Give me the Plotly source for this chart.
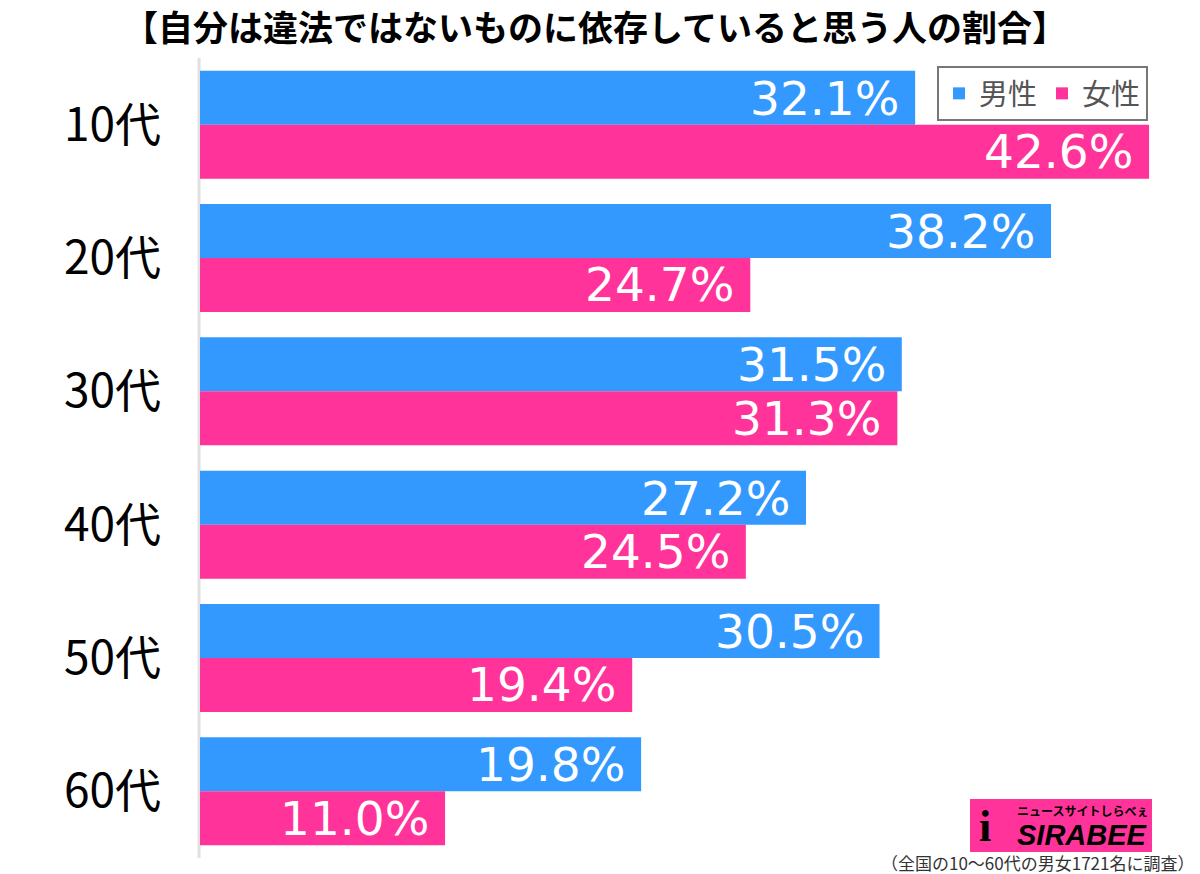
import plotly.graph_objects as go

categories = ["10代", "20代", "30代", "40代", "50代", "60代"]
male = [32.1, 38.2, 31.5, 27.2, 30.5, 19.8]
female = [42.6, 24.7, 31.3, 24.5, 19.4, 11.0]
series_names = ["男性", "女性"]
title_text = "【自分は違法ではないものに依存していると思う人の割合】"
note_text = "（全国の10〜60代の男女1721名に調査）"

BLUE = "#3399FF"
PINK = "#FF3399"
NUM_FONT = "DejaVu Sans, sans-serif"
JP_FONT = "Noto Sans CJK JP, sans-serif"

L, R, T, B = 200, 42, 58, 16
PW, PH = 1200 - L - R, 874 - T - B


def px(xp):
    return (xp - L) / PW


def py(yp):
    return (874 - B - yp) / PH


fig = go.Figure()
for name, vals, col in [(series_names[0], male, BLUE), (series_names[1], female, PINK)]:
    fig.add_trace(go.Bar(
        y=categories, x=vals, name=name, orientation="h",
        marker=dict(color=col, line=dict(width=0)),
        textposition="none",
        hoverinfo="skip",
    ))

# value labels inside bar ends
for i, c in enumerate(categories):
    for vals, off in [(male, -0.2), (female, 0.2)]:
        fig.add_annotation(
            x=vals[i], y=i + off, xref="x", yref="y",
            text=f"{vals[i]:.1f}%", showarrow=False,
            xanchor="right", yanchor="middle", xshift=-14, yshift=0,
            font=dict(family=NUM_FONT, size=47, color="white"),
        )

fig.update_layout(
    width=1200, height=874,
    barmode="group", bargap=0.19, bargroupgap=0,
    plot_bgcolor="white", paper_bgcolor="white",
    margin=dict(l=L, r=R, t=T, b=B),
    xaxis=dict(range=[0, 43], visible=False, showgrid=False, zeroline=False),
    yaxis=dict(autorange="reversed", type="category",
               tickfont=dict(family=JP_FONT, size=46, color="black"),
               showline=False, ticks="", ticklabelstandoff=38, showgrid=False),
    legend=dict(orientation="h", x=px(1148), xanchor="right", y=py(66), yanchor="top",
                bgcolor="white", bordercolor="#777777", borderwidth=2,
                font=dict(family=JP_FONT, size=29, color="#555555"),
                itemwidth=30, traceorder="normal"),
    showlegend=True,
)

# title
fig.add_annotation(xref="paper", yref="paper", x=px(595), y=py(26),
                   text=f"<b>{title_text}</b>", showarrow=False, xanchor="center", yanchor="middle",
                   font=dict(family=JP_FONT, size=35, color="black"))

# axis line at left
fig.add_shape(type="line", xref="paper", yref="paper", x0=-0.001, x1=-0.001, y0=0, y1=1,
              line=dict(color="#e0e0e0", width=3), layer="below")

# logo approximation
fig.add_shape(type="rect", xref="paper", yref="paper",
              x0=px(970), x1=px(1152), y0=py(852), y1=py(799),
              fillcolor=PINK, line=dict(width=0), layer="above")
fig.add_annotation(xref="paper", yref="paper", x=px(1150), y=py(835),
                   text="<b><i>SIRABEE</i></b>", showarrow=False, xanchor="right", yanchor="middle",
                   height=30,
                   font=dict(family="Liberation Sans, Arial", size=29, color="black"))
fig.add_annotation(xref="paper", yref="paper", x=px(1150), y=py(810),
                   text="<b>ニュースサイトしらべぇ</b>", showarrow=False, xanchor="right", yanchor="middle",
                   height=16,
                   font=dict(family=JP_FONT, size=12, color="black"))
fig.add_annotation(xref="paper", yref="paper", x=px(985), y=py(826),
                   text="<b>i</b>", showarrow=False, xanchor="center", yanchor="middle",
                   font=dict(family="Liberation Serif", size=44, color="black"))

# footnote
fig.add_annotation(xref="paper", yref="paper", x=px(1196), y=py(862),
                   text=note_text, showarrow=False, xanchor="right", yanchor="middle",
                   height=22,
                   font=dict(family=JP_FONT, size=17, color="#333333"))

fig.write_html("out.html")
